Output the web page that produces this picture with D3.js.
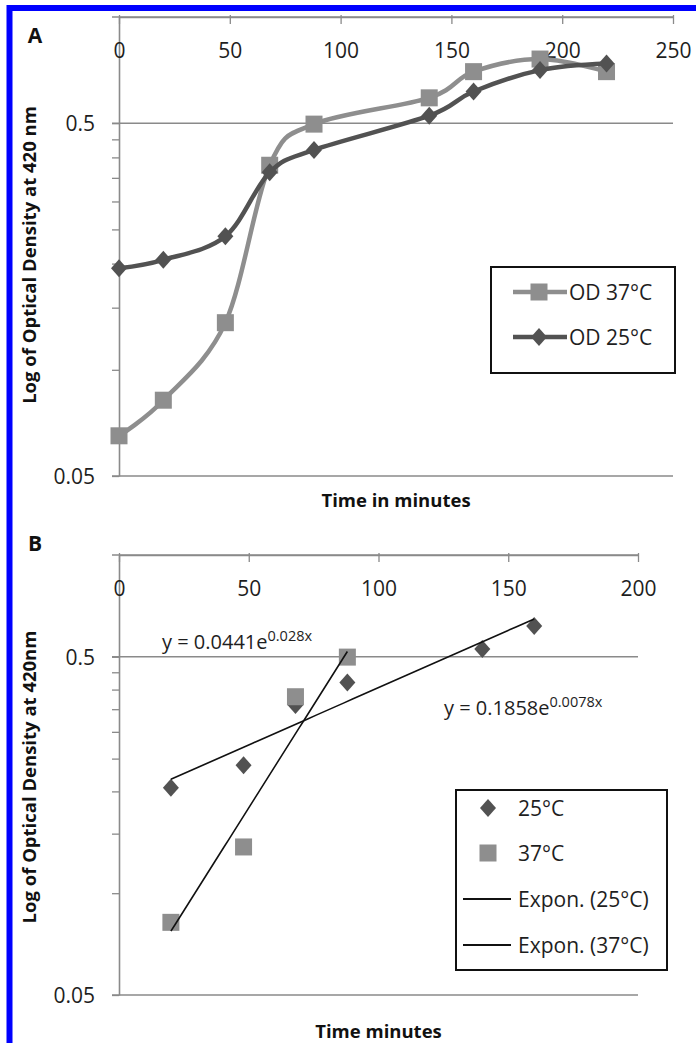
<!DOCTYPE html>
<html><head><meta charset="utf-8">
<script src="https://cdn.jsdelivr.net/npm/d3@7"></script>
<style>
html,body{margin:0;padding:0;background:#fff;}
svg{display:block;font-family:"Open Sans",sans-serif;}
</style></head>
<body>
<svg id="c" width="696" height="1043"></svg>
<script>
// ---------- data ----------
const timesA = [0, 20, 48, 68, 88, 140, 160, 190, 220];
const od37A  = [0.065, 0.082, 0.136, 0.38, 0.497, 0.59, 0.70, 0.76, 0.70];
const od25A  = [0.194, 0.205, 0.239, 0.363, 0.42, 0.525, 0.615, 0.707, 0.738];

const timesB25 = [20, 48, 68, 88, 140, 160];
const od25B    = [0.205, 0.239, 0.36, 0.42, 0.527, 0.617];
const timesB37 = [20, 48, 68, 88];
const od37B    = [0.082, 0.137, 0.381, 0.499];

const trend37 = {a: 0.0441, b: 0.028, from: 20, to: 88, label: "y = 0.0441e", sup: "0.028x"};
const trend25 = {a: 0.1858, b: 0.0078, from: 20, to: 160, label: "y = 0.1858e", sup: "0.0078x"};

const xTicksA = [0, 50, 100, 150, 200, 250];
const xTicksB = [0, 50, 100, 150, 200];
const yMajor  = [0.05, 0.5];
const yMinor  = [0.1, 0.15, 0.2, 0.25, 0.3, 0.35, 0.4, 0.45];

const legendA = ["OD 37°C", "OD 25°C"];
const legendB = ["25°C", "37°C", "Expon. (25°C)", "Expon. (37°C)"];

// ---------- drawing ----------
const svg = d3.select("#c");
const C37 = "#8e8e8e", C25 = "#525252", AX = "#8a8a8a", TXT = "#1e1e1e";

// blue frame
svg.append("rect").attr("x", 9.5).attr("y", 8).attr("width", 720).attr("height", 1100)
  .attr("fill", "none").attr("stroke", "#0000ff").attr("stroke-width", 6);

function diamond(w, h){ return `M0,${-h}L${w},0L0,${h}L${-w},0Z`; }

function panel(cfg){
  const g = svg.append("g");
  const x = d3.scaleLinear().domain(cfg.xDomain).range(cfg.xRange);
  const y = d3.scaleLog().domain([0.05, 1]).range(cfg.yRange);
  const [x0, x1] = cfg.xRange;
  // gridlines (major) extending as ticks to the left
  g.selectAll(".grid").data(yMajor.concat([1])).join("line")
    .attr("x1", x0 - 7).attr("x2", x1)
    .attr("y1", d => y(d)).attr("y2", d => y(d))
    .attr("stroke", AX).attr("stroke-width", 1.6);
  // y axis
  const yAx = d3.axisLeft(y).tickValues(yMinor.concat(yMajor)).tickSize(7).tickSizeOuter(0)
    .tickFormat(d => yMajor.includes(d) ? String(d) : "");
  const ya = g.append("g").attr("transform", `translate(${x0},0)`).call(yAx);
  ya.select(".domain").attr("stroke", AX).attr("stroke-width", 1.6);
  ya.selectAll(".tick line").attr("stroke", AX).attr("stroke-width", 1.3);
  ya.selectAll(".tick text").attr("x", -24).attr("dy", "0.36em")
    .attr("font-size", 21).attr("font-family", "Open Sans").attr("fill", TXT);
  // x axis at top, ticks pointing down, labels below
  const xAx = d3.axisBottom(x).tickValues(cfg.xTicks).tickSize(7).tickSizeOuter(0).tickFormat(d3.format("d"));
  const xa = g.append("g").attr("transform", `translate(0,${cfg.yRange[1]})`).call(xAx);
  xa.select(".domain").attr("stroke", AX).attr("stroke-width", 1.6);
  xa.selectAll(".tick line").attr("stroke", AX).attr("stroke-width", 1.3).attr("y1", -2);
  xa.selectAll(".tick text").attr("y", 33).attr("dy", "0.36em")
    .attr("font-size", 21).attr("font-family", "Open Sans").attr("fill", TXT);
  // titles
  g.append("text").attr("transform", `translate(${cfg.yTitleX},${cfg.yTitleY}) rotate(-90)`)
    .attr("text-anchor", "middle").attr("dy", "0.35em")
    .attr("font-size", 18.5).attr("font-weight", "bold").attr("fill", "#111").text(cfg.yTitle);
  g.append("text").attr("x", (x0 + x1) / 2).attr("y", cfg.xTitleY).attr("dy", "0.35em")
    .attr("text-anchor", "middle").attr("font-size", 18.5).attr("font-weight", "bold").attr("fill", "#111").text(cfg.xTitle);
  g.append("text").attr("x", 35).attr("y", cfg.letterY).attr("dy", "0.35em")
    .attr("text-anchor", "middle").attr("font-size", 21).attr("font-weight", "bold").attr("fill", "#111").text(cfg.letter);
  return {g, x, y};
}

// ---------------- Panel A ----------------
const A = panel({xDomain: [0, 250], xRange: [119, 673], yRange: [476, 17], xTicks: xTicksA,
  yTitle: "Log of Optical Density at 420 nm", yTitleX: 30, yTitleY: 255,
  xTitle: "Time in minutes", xTitleY: 501, letter: "A", letterY: 36});

const lineA = d3.line().x(d => A.x(d[0])).y(d => A.y(d[1])).curve(d3.curveCatmullRom.alpha(0));
const s37A = timesA.map((t, i) => [t, od37A[i]]);
const s25A = timesA.map((t, i) => [t, od25A[i]]);
A.g.append("path").attr("d", lineA(s37A)).attr("fill", "none").attr("stroke", C37).attr("stroke-width", 4.5);
A.g.selectAll(".sqA").data(s37A).join("rect")
  .attr("x", d => A.x(d[0]) - 8.5).attr("y", d => A.y(d[1]) - 8.5).attr("width", 17).attr("height", 17).attr("fill", C37);
A.g.append("path").attr("d", lineA(s25A)).attr("fill", "none").attr("stroke", C25).attr("stroke-width", 4.5);
A.g.selectAll(".dmA").data(s25A).join("path")
  .attr("transform", d => `translate(${A.x(d[0])},${A.y(d[1])})`).attr("d", diamond(8, 9)).attr("fill", C25);

// legend A
const lgA = A.g.append("g");
lgA.append("rect").attr("x", 491).attr("y", 267).attr("width", 184).attr("height", 106)
  .attr("fill", "#fff").attr("stroke", "#111").attr("stroke-width", 2);
[[C37, "sq"], [C25, "dm"]].forEach(([col, m], i) => {
  const yy = 292 + i * 45;
  lgA.append("line").attr("x1", 513).attr("x2", 567).attr("y1", yy).attr("y2", yy).attr("stroke", col).attr("stroke-width", 4.5);
  if (m === "sq") lgA.append("rect").attr("x", 539 - 8.5).attr("y", yy - 8.5).attr("width", 17).attr("height", 17).attr("fill", col);
  else lgA.append("path").attr("transform", `translate(539,${yy})`).attr("d", diamond(8, 9)).attr("fill", col);
  lgA.append("text").attr("x", 569).attr("y", yy).attr("dy", "0.36em").attr("font-size", 21).attr("fill", TXT).text(legendA[i]);
});

// ---------------- Panel B ----------------
const B = panel({xDomain: [0, 200], xRange: [119, 638], yRange: [995, 555], xTicks: xTicksB,
  yTitle: "Log of Optical Density at 420nm", yTitleX: 30, yTitleY: 777,
  xTitle: "Time minutes", xTitleY: 1032, letter: "B", letterY: 544});

const s25B = timesB25.map((t, i) => [t, od25B[i]]);
const s37B = timesB37.map((t, i) => [t, od37B[i]]);
B.g.selectAll(".dmB").data(s25B).join("path")
  .attr("transform", d => `translate(${B.x(d[0])},${B.y(d[1])})`).attr("d", diamond(8, 9)).attr("fill", C25);
B.g.selectAll(".sqB").data(s37B).join("rect")
  .attr("x", d => B.x(d[0]) - 8.5).attr("y", d => B.y(d[1]) - 8.5).attr("width", 17).attr("height", 17).attr("fill", C37);

const lineB = d3.line().x(d => B.x(d[0])).y(d => B.y(d[1]));
[trend25, trend37].forEach(tr => {
  const pts = d3.range(0, 41).map(k => {
    const t = tr.from + (tr.to - tr.from) * k / 40;
    return [t, tr.a * Math.exp(tr.b * t)];
  });
  B.g.append("path").attr("d", lineB(pts)).attr("fill", "none").attr("stroke", "#111").attr("stroke-width", 1.6);
});

function equation(tr, x0, yc){
  const t = B.g.append("text").attr("x", x0).attr("y", yc).attr("dy", "0.36em").attr("font-size", 20).attr("fill", TXT);
  t.append("tspan").text(tr.label);
  t.append("tspan").attr("dy", "-0.55em").attr("font-size", 14.5).text(tr.sup);
}
equation(trend37, 162, 642);
equation(trend25, 444, 708);

// legend B
const lgB = B.g.append("g");
lgB.append("rect").attr("x", 456).attr("y", 790).attr("width", 211).attr("height", 180)
  .attr("fill", "#fff").attr("stroke", "#111").attr("stroke-width", 2);
const rowsB = [808, 853, 899, 945];
lgB.append("path").attr("transform", `translate(488,${rowsB[0]})`).attr("d", diamond(8, 9)).attr("fill", C25);
lgB.append("rect").attr("x", 488 - 8.5).attr("y", rowsB[1] - 8.5).attr("width", 17).attr("height", 17).attr("fill", C37);
[rowsB[2], rowsB[3]].forEach(yy => lgB.append("line").attr("x1", 463).attr("x2", 511).attr("y1", yy).attr("y2", yy)
  .attr("stroke", "#111").attr("stroke-width", 1.8));
legendB.forEach((s, i) => lgB.append("text").attr("x", 518).attr("y", rowsB[i]).attr("dy", "0.36em")
  .attr("font-size", 21).attr("fill", TXT).text(s));
</script>
</body></html>
